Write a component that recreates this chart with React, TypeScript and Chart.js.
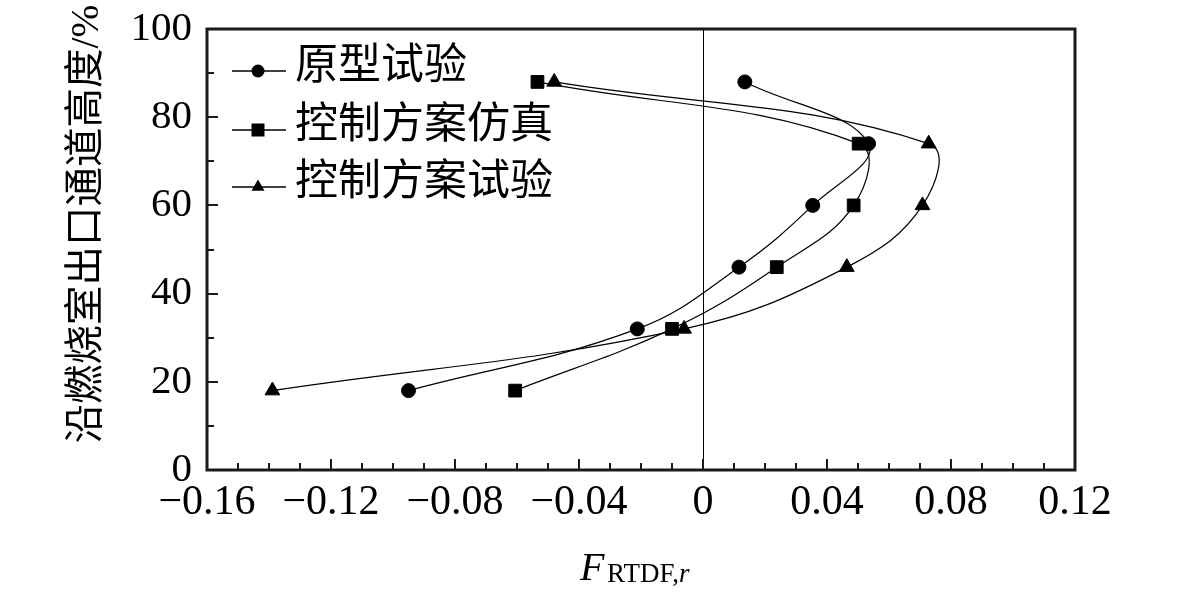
import { useEffect, useRef } from 'react';
import { Chart, registerables } from 'chart.js';

Chart.register(...registerables);

const heights = [88, 74, 60, 46, 32, 18];
const prototypeTest = [0.0135, 0.0534, 0.0354, 0.0116, -0.0212, -0.095];
const controlSim = [-0.0534, 0.0502, 0.0486, 0.0238, -0.01, -0.0606];
const controlTest = [-0.048, 0.0728, 0.0708, 0.0464, -0.0061, -0.1389];
const seriesNames = ['原型试验', '控制方案仿真', '控制方案试验'];
const pointStyles = ['circle', 'rect', 'triangle'];
const xTickValues = [-0.16, -0.12, -0.08, -0.04, 0, 0.04, 0.08, 0.12];
const xTickLabels = ['\u22120.16', '\u22120.12', '\u22120.08', '\u22120.04', '0', '0.04', '0.08', '0.12'];
const yTickValues = [0, 20, 40, 60, 80, 100];
const yTickLabels = ['0', '20', '40', '60', '80', '100'];
const yTitle = '沿燃烧室出口通道高度/%';
const xTitleMain = 'F';
const xTitleSub = 'RTDF,';
const xTitleSubItalic = 'r';

const SERIF = '"Liberation Serif", "Noto Sans CJK SC", serif';

function drawMarker(ctx: CanvasRenderingContext2D, style: string, x: number, y: number, s: number) {
  ctx.beginPath();
  if (style === 'circle') {
    ctx.arc(x, y, s / 2, 0, Math.PI * 2);
  } else if (style === 'rect') {
    ctx.rect(x - s / 2, y - s / 2, s, s);
  } else {
    const r = s / Math.sqrt(3);
    ctx.moveTo(x, y - r);
    ctx.lineTo(x + s / 2, y + r / 2);
    ctx.lineTo(x - s / 2, y + r / 2);
    ctx.closePath();
  }
  ctx.fill();
}

const decorPlugin = {
  id: 'decor',
  afterDraw(chart: any) {
    const { ctx, chartArea } = chart;
    const { left, right, top, bottom } = chartArea;
    const xs = chart.scales.x;
    const ys = chart.scales.y;
    ctx.save();
    ctx.strokeStyle = '#1a1a1a';
    ctx.fillStyle = '#000';
    // inward ticks
    ctx.lineWidth = 2;
    for (let i = 0; i <= 28; i++) {
      const v = -0.16 + i * 0.01;
      const px = Math.round(xs.getPixelForValue(v));
      const len = i % 4 === 0 ? 11 : 7;
      ctx.beginPath();
      ctx.moveTo(px, bottom);
      ctx.lineTo(px, bottom - len);
      ctx.stroke();
    }
    for (let i = 0; i <= 10; i++) {
      const v = i * 10;
      const py = Math.round(ys.getPixelForValue(v));
      const len = i % 2 === 0 ? 11 : 7;
      ctx.beginPath();
      ctx.moveTo(left, py);
      ctx.lineTo(left + len, py);
      ctx.stroke();
    }
    // frame
    ctx.lineWidth = 3;
    ctx.strokeRect(left, top, right - left, bottom - top);

    // legend
    const rows = [71, 130, 187];
    chart.data.datasets.forEach((ds: any, i: number) => {
      const y = rows[i];
      ctx.strokeStyle = '#000';
      ctx.lineWidth = 1.5;
      ctx.beginPath();
      ctx.moveTo(232, y);
      ctx.lineTo(286, y);
      ctx.stroke();
      ctx.fillStyle = '#000';
      drawMarker(ctx, pointStyles[i], 258, y, 13);
      ctx.font = `43px ${SERIF}`;
      ctx.textAlign = 'left';
      ctx.textBaseline = 'middle';
      ctx.fillText(ds.label, 295, y - 3);
    });

    // y title
    ctx.save();
    ctx.translate(88, 224);
    ctx.rotate(-Math.PI / 2);
    ctx.font = `39.5px ${SERIF}`;
    ctx.textAlign = 'center';
    ctx.textBaseline = 'middle';
    ctx.fillText(yTitle, 0, 0);
    ctx.restore();

    // x title
    ctx.textAlign = 'left';
    ctx.textBaseline = 'alphabetic';
    ctx.font = `italic 40px ${SERIF}`;
    ctx.fillText(xTitleMain, 580, 580);
    ctx.font = `27px ${SERIF}`;
    ctx.fillText(xTitleSub, 607, 582);
    const w = ctx.measureText(xTitleSub).width;
    ctx.font = `italic 27px ${SERIF}`;
    ctx.fillText(xTitleSubItalic, 607 + w, 582);
    ctx.restore();
  },
};

export default function App() {
  const ref = useRef<HTMLCanvasElement>(null);
  useEffect(() => {
    if (!ref.current) return;
    const series = [prototypeTest, controlSim, controlTest];
    const radii = [7, 9, 8.5];
    const chart = new Chart(ref.current, {
      type: 'line',
      data: {
        datasets: series.map((vals, i) => ({
          label: seriesNames[i],
          data: vals.map((v, j) => ({ x: v, y: heights[j] })),
          borderColor: '#000',
          borderWidth: 1.2,
          backgroundColor: '#000',
          pointBackgroundColor: '#000',
          pointBorderColor: '#000',
          pointBorderWidth: 1,
          pointStyle: pointStyles[i] as any,
          pointRadius: radii[i],
          tension: 0.4,
          fill: false,
        })),
      },
      options: {
        animation: false,
        responsive: false,
        devicePixelRatio: 1,
        layout: { padding: { left: 0, right: 106, top: 29, bottom: 0 } },
        plugins: { legend: { display: false }, tooltip: { enabled: false } },
        scales: {
          x: {
            type: 'linear',
            min: -0.16,
            max: 0.12,
            afterBuildTicks: (s: any) => {
              s.ticks = xTickValues.map((v) => ({ value: v }));
            },
            afterFit: (s: any) => {
              s.height = 122;
              s.paddingLeft = 0;
              s.paddingRight = 0;
            },
            ticks: {
              autoSkip: false,
              maxRotation: 0,
              padding: 8,
              color: '#000',
              font: { family: SERIF, size: 42 },
              callback: (_v: any, idx: number) => xTickLabels[idx],
            },
            grid: {
              drawTicks: false,
              lineWidth: 1,
              color: (c: any) => (c.tick && Math.abs(c.tick.value) < 1e-9 ? '#000' : 'rgba(0,0,0,0)'),
            },
            border: { display: false },
          },
          y: {
            type: 'linear',
            min: 0,
            max: 100,
            afterBuildTicks: (s: any) => {
              s.ticks = yTickValues.map((v) => ({ value: v }));
            },
            afterFit: (s: any) => {
              s.width = 207;
              s.paddingTop = 0;
              s.paddingBottom = 0;
            },
            ticks: {
              autoSkip: false,
              padding: 15,
              color: '#000',
              font: { family: SERIF, size: 41 },
              callback: (_v: any, idx: number) => yTickLabels[idx],
            },
            grid: { display: false, drawTicks: false },
            border: { display: false },
          },
        },
      },
      plugins: [decorPlugin],
    });
    return () => chart.destroy();
  }, []);
  return (
    <div style={{ position: 'absolute', left: 0, top: 0, width: 1181, height: 592, background: '#fff' }}>
      <canvas ref={ref} width={1181} height={592} style={{ display: 'block' }} />
    </div>
  );
}
